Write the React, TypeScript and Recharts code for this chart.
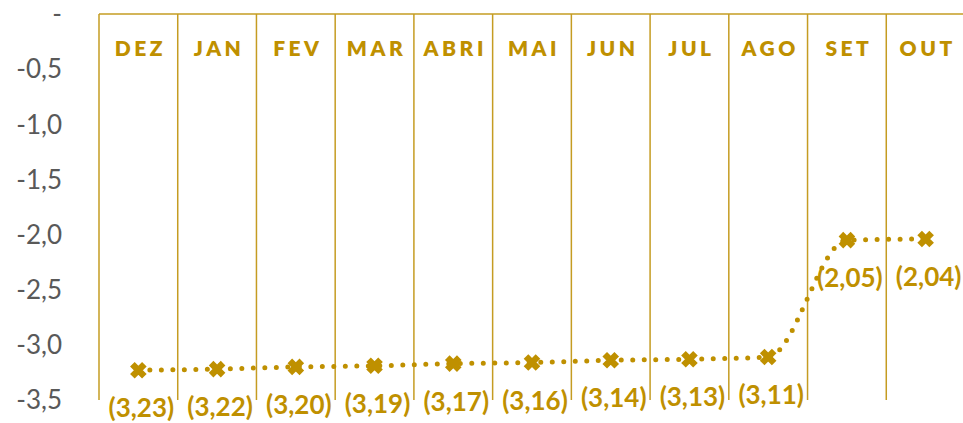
import { LineChart, Line, XAxis, YAxis, CartesianGrid, LabelList } from "recharts";

const months = ["DEZ", "JAN", "FEV", "MAR", "ABRI", "MAI", "JUN", "JUL", "AGO", "SET", "OUT"];
const values = [-3.23, -3.22, -3.2, -3.19, -3.17, -3.16, -3.14, -3.13, -3.11, -2.05, -2.04];
const yTicks = [0, -0.5, -1, -1.5, -2, -2.5, -3, -3.5];

const data = months.map((m, i) => ({ month: m, value: values[i] }));

const gold = "#BF9000";
const gridGold = "#C59C22";
const font = "Lato, 'Open Sans', sans-serif";

const fmtTick = (v: number) => (v === 0 ? "-" : v.toFixed(1).replace(".", ","));
const fmtLabel = (v: number) => `(${Math.abs(v).toFixed(2).replace(".", ",")})`;

function MonthTick(props: any) {
  const { x, y, payload } = props;
  return (
    <text
      x={x + 2}
      y={y + 42}
      textAnchor="middle"
      fill={gold}
      fontFamily={font}
      fontWeight={800}
      fontSize={21}
      letterSpacing={3.5}
    >
      {payload.value}
    </text>
  );
}

function XMark(props: any) {
  const { cx, cy, index } = props;
  if (cx == null || cy == null) return null;
  const s = 6;
  return (
    <path
      key={`mark-${index}`}
      d={`M${cx - s},${cy - s}L${cx + s},${cy + s}M${cx + s},${cy - s}L${cx - s},${cy + s}`}
      stroke={gold}
      strokeWidth={6.5}
      fill="none"
    />
  );
}

function PointLabel(props: any) {
  const { x, y, value } = props;
  return (
    <text
      x={x + 3}
      y={y + 47}
      textAnchor="middle"
      fill={gold}
      fontFamily={font}
      fontWeight={700}
      fontSize={26}
    >
      {fmtLabel(value)}
    </text>
  );
}

export default function App() {
  return (
    <div
      style={{
        position: "absolute",
        left: 0,
        top: 0,
        width: 963,
        height: 423,
        overflow: "hidden",
        background: "#fff",
      }}
    >
      <LineChart
        width={975}
        height={423}
        data={data}
        margin={{ top: 0, right: 10, left: 0, bottom: 23 }}
      >
        <CartesianGrid
          horizontal={false}
          stroke={gridGold}
          strokeWidth={1.5}
          verticalCoordinatesGenerator={({ offset }: any) =>
            months.map((_, i) => offset.left + (i * offset.width) / months.length)
          }
        />
        <XAxis
          dataKey="month"
          orientation="top"
          scale="band"
          height={14}
          axisLine={{ stroke: gridGold, strokeWidth: 1.5 }}
          tickLine={false}
          tickSize={0}
          tickMargin={0}
          tick={<MonthTick />}
          interval={0}
        />
        <YAxis
          width={99}
          domain={[-3.5, 0]}
          ticks={yTicks}
          interval={0}
          axisLine={false}
          tickLine={false}
          tickSize={0}
          tickMargin={37}
          tickFormatter={fmtTick}
          tick={{ fill: "#595959", fontSize: 26, fontFamily: font }}
        />
        <Line
          type="monotone"
          dataKey="value"
          stroke={gold}
          strokeWidth={5}
          strokeDasharray="0 11.5"
          strokeLinecap="round"
          dot={XMark}
          activeDot={false}
          isAnimationActive={false}
        >
          <LabelList dataKey="value" content={PointLabel} />
        </Line>
      </LineChart>
    </div>
  );
}
